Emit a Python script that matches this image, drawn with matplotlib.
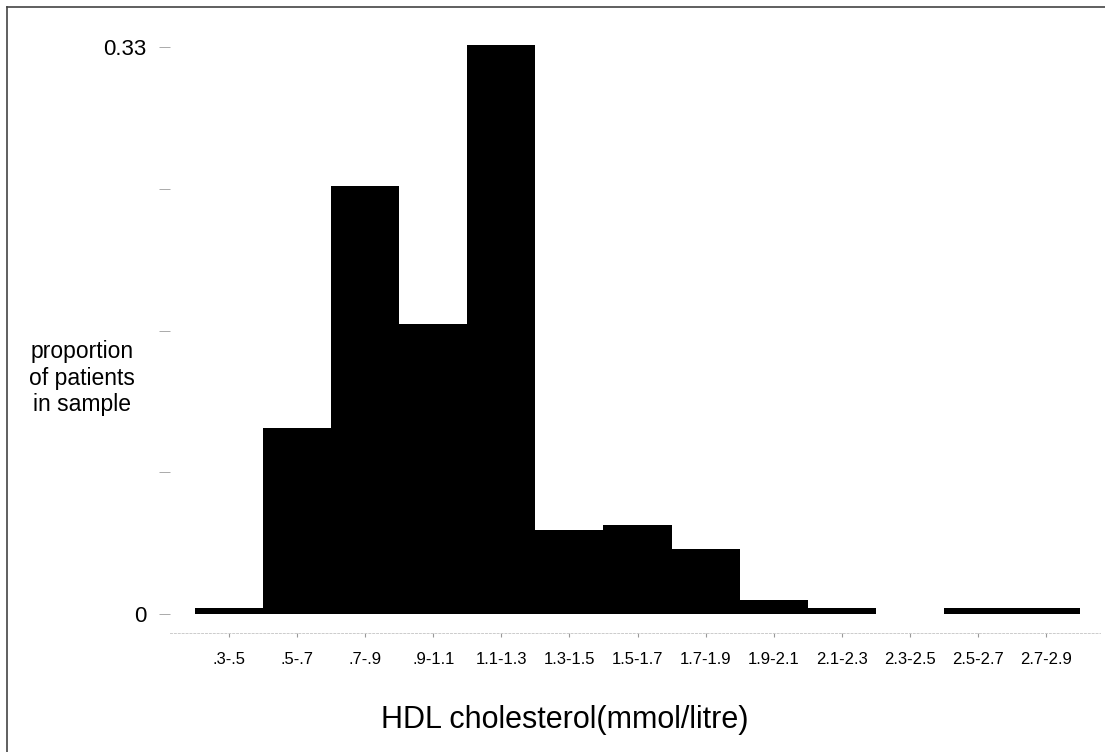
import matplotlib
matplotlib.use("Agg")
import matplotlib.pyplot as plt
from matplotlib.lines import Line2D

categories = [".3-.5", ".5-.7", ".7-.9", ".9-1.1", "1.1-1.3", "1.3-1.5", "1.5-1.7",
              "1.7-1.9", "1.9-2.1", "2.1-2.3", "2.3-2.5", "2.5-2.7", "2.7-2.9"]
proportions = [0.0035, 0.1085, 0.249, 0.169, 0.331, 0.0487, 0.0516,
               0.0377, 0.0081, 0.0035, 0.0, 0.0035, 0.0035]
ytick_values = [0, 0.0825, 0.165, 0.2475, 0.33]
ytick_labels = ["0", "", "", "", "0.33"]

plt.rcParams['font.family'] = ['Liberation Sans', 'DejaVu Sans']

W, H = 1105, 752
fig = plt.figure(figsize=(W / 100, H / 100), dpi=100)

ax_l, ax_r, ax_b, ax_t = 170, 1100, 633, 20
ax = fig.add_axes([ax_l / W, 1 - ax_b / H, (ax_r - ax_l) / W, (ax_b - ax_t) / H])

x = list(range(len(categories)))
ax.bar(x, proportions, width=1.0, color="black", edgecolor="none")

ax.set_xlim(-0.868, 12.794)
ax.set_ylim(-0.01106, 0.3458)

ax.set_xticks(x)
ax.set_xticklabels(categories, fontsize=12)
ax.set_yticks(ytick_values)
ax.set_yticklabels(ytick_labels, fontsize=16)

ax.tick_params(axis="x", length=3, width=0.8, color="#999999", pad=11)
ax.tick_params(axis="y", length=8, width=0.7, color="#aaaaaa", pad=9)

for s in ["top", "right", "left"]:
    ax.spines[s].set_visible(False)
ax.spines["bottom"].set_color("#cccccc")
ax.spines["bottom"].set_linestyle((0, (2, 2)))
ax.spines["bottom"].set_linewidth(0.7)

fig.text(82 / W, 1 - 378 / H, "proportion\nof patients\nin sample", ha="center", va="center",
         multialignment="center", fontsize=16.5, linespacing=1.22)
fig.text(565 / W, 1 - 720 / H, "HDL cholesterol(mmol/litre)", ha="center", va="center",
         fontsize=22)

# figure border (left and top edges)
fig.add_artist(Line2D([7 / W, 7 / W], [0, 1 - 7 / H], transform=fig.transFigure,
                      color="#444444", linewidth=1.2))
fig.add_artist(Line2D([7 / W, 1], [1 - 7 / H, 1 - 7 / H], transform=fig.transFigure,
                      color="#444444", linewidth=1.2))

fig.savefig("out.png", dpi=100, facecolor="white")
